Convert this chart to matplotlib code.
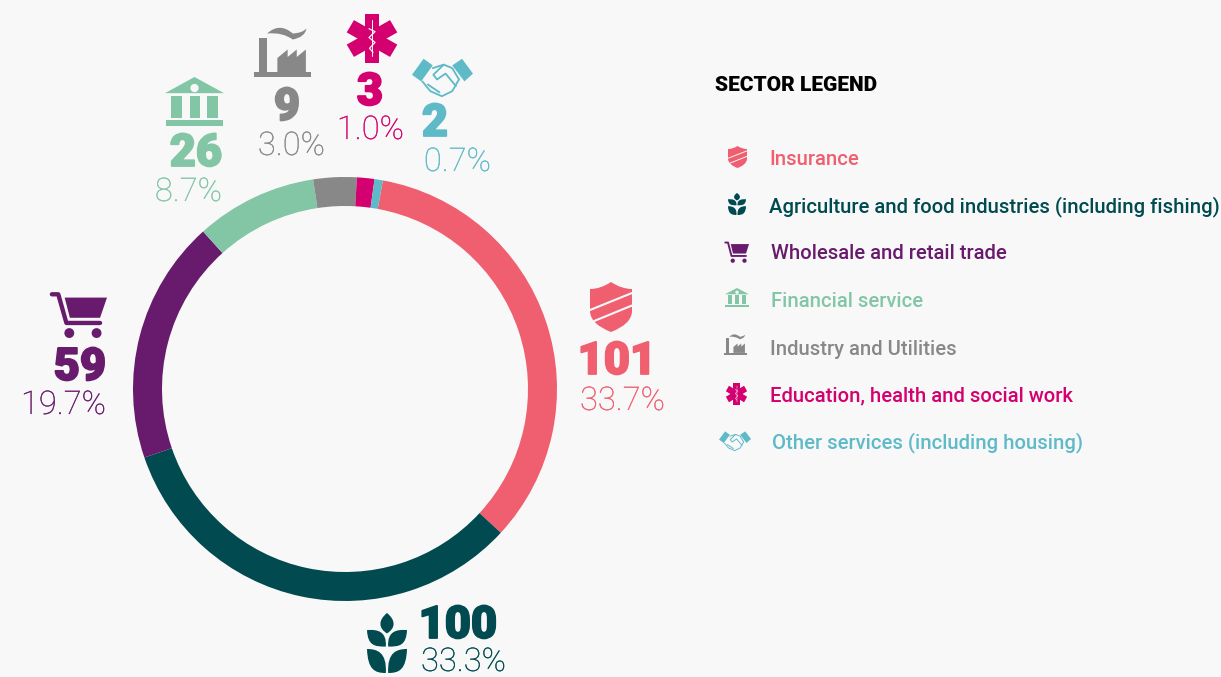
import numpy as np
import matplotlib
matplotlib.use('Agg')
import matplotlib.pyplot as plt
import matplotlib.patheffects as pe
from matplotlib.patches import Polygon, PathPatch, Ellipse
from matplotlib.path import Path

# sector data
sectors = ['Insurance', 'Agriculture and food industries (including fishing)', 'Wholesale and retail trade',
           'Financial service', 'Industry and Utilities', 'Education, health and social work',
           'Other services (including housing)']
counts = [101, 100, 59, 26, 9, 3, 2]
shares = ['33.7%', '33.3%', '19.7%', '8.7%', '3.0%', '1.0%', '0.7%']
# arc lengths as drawn in the picture, they are not quite in proportion to the printed counts
arc_sizes = [102, 98.7, 55.7, 27.8, 9.9, 4, 1.9]
colors = ['#EF5F70', '#004A50', '#681A6C', '#82C6A6', '#888888', '#D5006F', '#5FBAC8']
icons = ['shield', 'wheat', 'cart', 'bank', 'factory', 'star', 'hands']

BG = '#F8F8F8'
W, H = 1221, 677
FONT = 'Roboto'

# icon box (x0, x1, y0, y1), count (right x, baseline), share (right x, baseline), pixels
icon_boxes = [(590, 632, 282, 332), (367, 407, 613, 673), (49, 107, 291, 338), (165, 224, 77, 126),
              (254, 311, 27, 77), (347, 397, 14, 63), (412, 473, 58, 97)]
count_pos = [(656, 374), (497, 638), (106, 380), (222, 166), (300, 120), (383, 105), (448, 136)]
share_pos = [(665, 410), (506, 671), (106, 414), (222, 201), (325, 155), (404, 139), (491, 171)]

# legend rows
legend_y = [165, 212, 259, 307, 355, 401, 448]
legend_x = [769, 769, 771, 771, 770, 770, 772]
legend_boxes = [(728, 747, 146, 168), (728, 746, 193, 215), (724, 749, 241, 263), (725, 749, 288, 307),
                (724, 747, 334, 355), (726, 747, 383, 405), (719, 751, 431, 451)]

fig = plt.figure(figsize=(W / 100, H / 100), dpi=100, facecolor=BG)

# donut
cx, cy, r_out, r_in = 345, 389, 212, 183
pie_ax = fig.add_axes([(cx - r_out) / W, (H - cy - r_out) / H, 2 * r_out / W, 2 * r_out / H])
pie_ax.pie(arc_sizes, colors=colors, startangle=79.7, counterclock=False, radius=1,
           wedgeprops={'width': 1 - r_in / r_out, 'linewidth': 0})
pie_ax.set_xlim(-1, 1)
pie_ax.set_ylim(-1, 1)
pie_ax.axis('off')

# overlay in pixel coords
ax = fig.add_axes([0, 0, 1, 1])
ax.set_xlim(0, W)
ax.set_ylim(H, 0)
ax.axis('off')
ax.patch.set_alpha(0)


def draw_icon(name, box, color):
    x0, x1, y0, y1 = box
    w, h = x1 - x0, y1 - y0
    lw_px = w * 0.72 / 60.0

    def m(pts):
        pts = np.array(pts, dtype=float)
        return np.column_stack([x0 + pts[:, 0] * w, y0 + pts[:, 1] * h])

    def poly(pts, c=color):
        ax.add_patch(Polygon(m(pts), closed=True, fc=c, ec='none'))

    def line(pts, width, c=color):
        p = m(pts)
        ax.plot(p[:, 0], p[:, 1], color=c, lw=width * lw_px, solid_capstyle='round', solid_joinstyle='round')

    def curve(pts, codes, c=color):
        ax.add_patch(PathPatch(Path(m(pts), codes), fc=c, ec='none'))

    def dot(px, py, rad, c=color):
        ax.add_patch(Ellipse((x0 + px * w, y0 + py * h), 2 * rad * w, 2 * rad * w, fc=c, ec='none'))

    M, L, C, C4, Z = Path.MOVETO, Path.LINETO, Path.CURVE3, Path.CURVE4, Path.CLOSEPOLY
    leaf_codes = [M, C4, C4, C4, C4, C4, C4, Z]

    if name == 'shield':
        curve([(0.5, 0), (0.75, 0.14), (1, 0.14), (1, 0.6), (0.97, 0.85), (0.5, 1),
               (0.03, 0.85), (0, 0.6), (0, 0.14), (0.25, 0.14), (0.5, 0), (0.5, 0)],
              [M, C, C, L, C, C, C, C, L, C, C, Z])
        line([(0, 0.56), (1, 0.22)], 3, BG)
        line([(0.1, 0.78), (1, 0.47)], 3, BG)
    elif name == 'wheat':
        curve([(0.5, 0), (0.72, 0.12), (0.72, 0.25), (0.5, 0.34), (0.28, 0.25), (0.28, 0.12), (0.5, 0), (0.5, 0)],
              leaf_codes)
        for sx in (0, 1):
            row1 = [(0, 0.285), (0.25, 0.27), (0.5, 0.3), (0.47, 0.56), (0.2, 0.56), (0.02, 0.55), (0, 0.285), (0, 0.285)]
            row2 = [(0, 0.6), (0.25, 0.6), (0.5, 0.65), (0.47, 1), (0.2, 1), (0.02, 0.95), (0, 0.6), (0, 0.6)]
            for row in (row1, row2):
                pts = [(1 - a, b) if sx else (a, b) for a, b in row]
                curve(pts, leaf_codes)
    elif name == 'cart':
        line([(0.05, 0.07), (0.16, 0.07), (0.3, 0.68), (0.88, 0.68)], 4.5)
        poly([(0.27, 0.14), (1, 0.14), (0.88, 0.57), (0.36, 0.57)])
        dot(0.35, 0.895, 0.085)
        dot(0.82, 0.895, 0.085)
    elif name == 'bank':
        poly([(0.5, 0), (1, 0.33), (0, 0.33)])
        dot(0.5, 0.225, 0.07, BG)
        for a, b in [(0.11, 0.28), (0.425, 0.59), (0.72, 0.89)]:
            poly([(a, 0.39), (b, 0.39), (b, 0.83), (a, 0.83)])
        poly([(0.01, 0.875), (0.99, 0.875), (0.99, 1), (0.01, 1)])
    elif name == 'factory':
        poly([(0.09, 0.21), (0.23, 0.21), (0.23, 0.9), (0.09, 0.9)])
        poly([(0, 0.89), (1, 0.89), (1, 1), (0, 1)])
        poly([(0.41, 0.9), (0.41, 0.62), (0.59, 0.45), (0.59, 0.6), (0.75, 0.45), (0.75, 0.6), (0.91, 0.45), (0.91, 0.9)])
        curve([(0.23, 0.13), (0.45, -0.1), (0.68, 0.13), (0.85, 0.12), (0.92, 0.03), (0.9, 0.2), (0.68, 0.25),
               (0.5, 0.1), (0.23, 0.13), (0.23, 0.13)],
              [M, C, C, C, C, C, C, C, C, Z])
    elif name == 'star':
        for ang in (0, 60, 120):
            t = np.radians(ang)
            hw, hl = 0.145, 0.5
            corners = np.array([[-hw, -hl], [hw, -hl], [hw, hl], [-hw, hl]])
            rot = np.column_stack([corners[:, 0] * np.cos(t) - corners[:, 1] * np.sin(t),
                                   corners[:, 0] * np.sin(t) + corners[:, 1] * np.cos(t)]) + 0.5
            poly(rot)
        line([(0.5, 0.12), (0.5, 0.85)], 1.2, BG)
        line([(0.44, 0.3), (0.56, 0.36), (0.44, 0.48), (0.56, 0.58), (0.45, 0.7), (0.52, 0.78)], 1.5, BG)
    elif name == 'hands':
        poly([(0.19, 0.02), (0.34, 0.19), (0.15, 0.6), (0, 0.43)])
        poly([(0.82, 0.02), (1, 0.4), (0.86, 0.6), (0.66, 0.19)])
        line([(0.34, 0.26), (0.52, 0.17), (0.66, 0.26), (0.77, 0.55)], 1.8)
        line([(0.17, 0.6), (0.3, 0.85), (0.49, 0.98), (0.66, 0.85), (0.77, 0.55)], 1.8)
        line([(0.52, 0.17), (0.35, 0.43), (0.41, 0.55), (0.55, 0.4), (0.72, 0.72)], 1.8)
        line([(0.26, 0.68), (0.45, 0.88)], 1.8)


# big labels around the ring
for i in range(len(sectors)):
    draw_icon(icons[i], icon_boxes[i], colors[i])
    ax.text(count_pos[i][0], count_pos[i][1], str(counts[i]), color=colors[i], fontsize=32.5,
            fontweight='black', family=FONT, ha='right', va='baseline',
            path_effects=[pe.withStroke(linewidth=1.3, foreground=colors[i])])
    ax.text(share_pos[i][0], share_pos[i][1], shares[i], color=colors[i], fontsize=23.5,
            fontweight='light', family=FONT, ha='right', va='baseline', alpha=0.95,
            path_effects=[pe.withStroke(linewidth=0.15, foreground=colors[i])])

# legend
ax.text(715, 91, 'SECTOR LEGEND', color='black', fontsize=15, fontweight='black', family=FONT, va='baseline')
for i in range(len(sectors)):
    draw_icon(icons[i], legend_boxes[i], colors[i])
    ax.text(legend_x[i], legend_y[i], sectors[i], color=colors[i], fontsize=14.6, family=FONT, fontweight='medium',
            va='baseline')

fig.savefig('out.png', dpi=100, facecolor=BG)
